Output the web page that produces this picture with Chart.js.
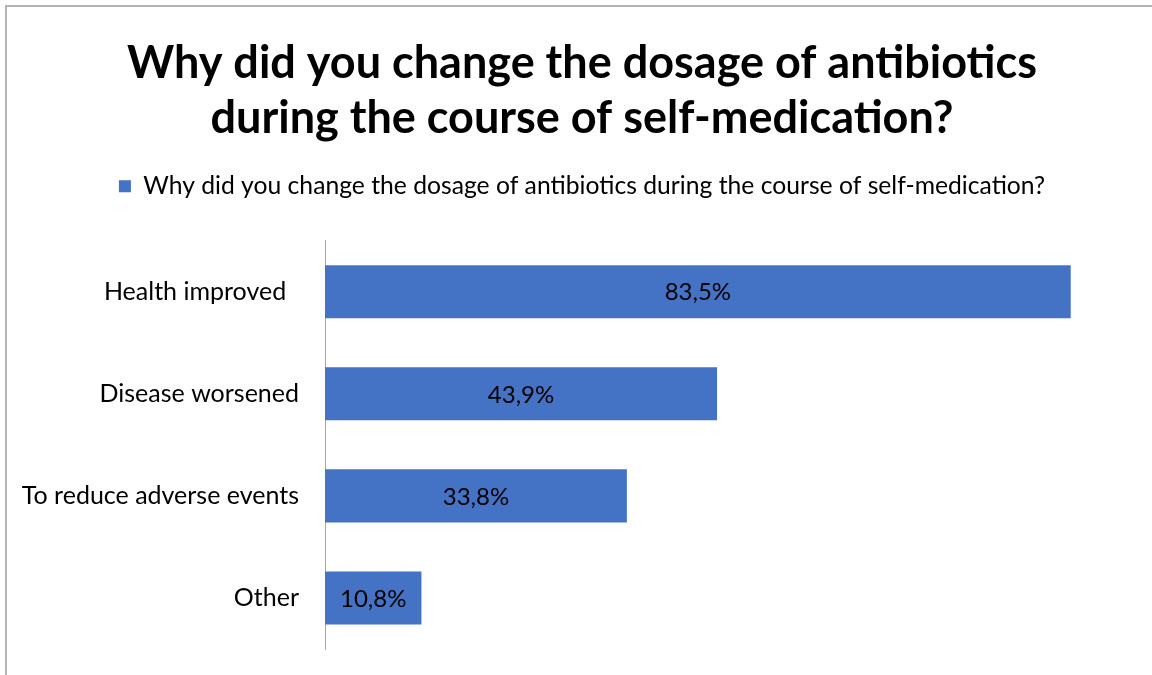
<!DOCTYPE html>
<html>
<head>
<meta charset="utf-8">
<script src="https://cdn.jsdelivr.net/npm/chart.js@4/dist/chart.umd.min.js"></script>
<style>
  html, body { margin: 0; padding: 0; background: #fff; }
  #wrap { width: 1152px; height: 675px; position: relative; }
</style>
</head>
<body>
<div id="wrap"><canvas id="chart"></canvas></div>
<script>
// answers and their share of respondents (%)
var reasons = ["Health improved  ", "Disease worsened", "To reduce adverse events", "Other"];
var shares = [83.5, 43.9, 33.8, 10.8];
var seriesName = "Why did you change the dosage of antibiotics during the course of self-medication?";
var titleLines = ["Why did you change the dosage of antibiotics", "during the course of self-medication?"];

var barColor = "#4472C4";
var fontName = "Lato, 'Open Sans', sans-serif";

// white page + thin frame on the top and left
var framePlugin = {
  id: "frame",
  beforeDraw: function(chart){
    var ctx = chart.ctx;
    ctx.save();
    ctx.fillStyle = "#fff";
    ctx.fillRect(0, 0, chart.width, chart.height);
    ctx.strokeStyle = "#b4b4b4";
    ctx.lineWidth = 2;
    ctx.beginPath();
    ctx.moveTo(6, chart.height);
    ctx.lineTo(6, 6);
    ctx.lineTo(chart.width, 6);
    ctx.stroke();
    ctx.restore();
  }
};

// extra room between legend and bars
var legendGap = {
  id: "legendGap",
  afterInit: function(chart){
    var fit = chart.legend.fit;
    chart.legend.fit = function(){
      fit.bind(chart.legend)();
      this.height += 32;
    };
  }
};

// value written in the middle of each bar
var valueLabels = {
  id: "valueLabels",
  afterDatasetsDraw: function(chart){
    var ctx = chart.ctx;
    var meta = chart.getDatasetMeta(0);
    ctx.save();
    ctx.font = "24px " + fontName;
    ctx.fillStyle = "#000";
    ctx.textAlign = "center";
    ctx.textBaseline = "middle";
    meta.data.forEach(function(bar, i){
      var v = chart.data.datasets[0].data[i];
      var txt = v.toFixed(1).replace(".", ",") + "%";
      ctx.fillText(txt, (bar.base + bar.x) / 2, bar.y + 1);
    });
    ctx.restore();
  }
};

new Chart(document.getElementById("chart"), {
  type: "bar",
  data: {
    labels: reasons,
    datasets: [{
      label: seriesName,
      data: shares,
      backgroundColor: barColor,
      barPercentage: 0.52,
      categoryPercentage: 1
    }]
  },
  options: {
    indexAxis: "y",
    responsive: true,
    maintainAspectRatio: false,
    animation: false,
    layout: { padding: { left: 12, right: 0, top: 36, bottom: 26 } },
    plugins: {
      title: {
        display: true,
        text: titleLines,
        color: "#000",
        font: { family: fontName, size: 45, weight: "bold", lineHeight: 55 / 45 },
        padding: { top: 0, bottom: 18 }
      },
      legend: {
        display: true,
        labels: {
          color: "#000",
          font: { family: fontName, size: 24.7 },
          boxWidth: 12,
          boxHeight: 12,
          padding: 10
        }
      },
      tooltip: { enabled: false }
    },
    scales: {
      x: { display: false, min: 0, max: 92.6 },
      y: {
        afterFit: function(scale){
          scale.width = 325 - 12;
          scale.paddingTop = 0;
          scale.paddingBottom = 0;
        },
        grid: { display: false, drawTicks: false },
        border: { display: true, color: "#a6a6a6", width: 1 },
        ticks: { color: "#000", font: { family: fontName, size: 25 }, padding: 26 }
      }
    }
  },
  plugins: [framePlugin, legendGap, valueLabels]
});
</script>
</body>
</html>
